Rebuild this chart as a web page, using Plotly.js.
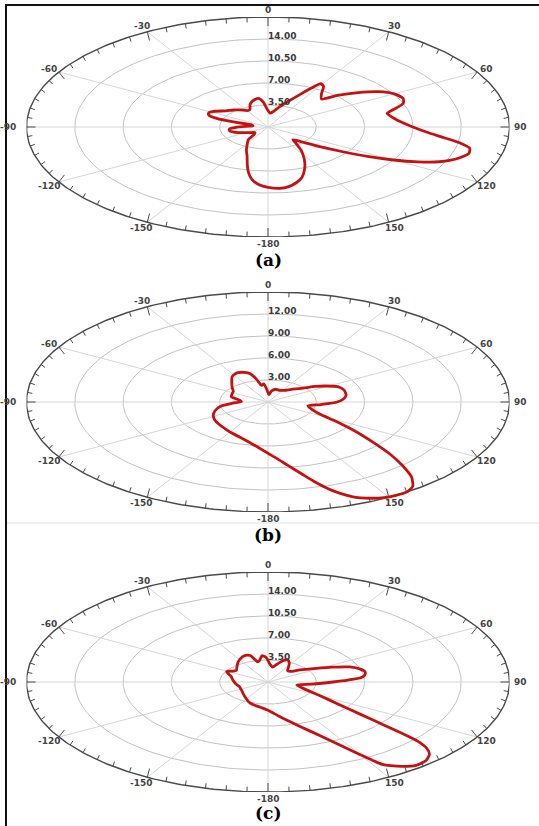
<!DOCTYPE html>
<html><head><meta charset="utf-8">
<script src="https://cdn.plot.ly/plotly-3.0.1.min.js"></script>
<style>html,body{margin:0;padding:0;background:#fff;}#chart{width:539px;height:826px;}</style>
</head><body><div id="chart"></div>
<script>
// ---- data (angle in degrees, clockwise from top; gain values) ----
const anglesA = [-180,-176,-172,-169,-166,-162,-157,-151,-145,-139,-133,-124,-115,-108,-102,-96,-91,-86,-80,-75,-72,-70,-66,-62,-57,-50,-43,-37,-29,-25,-20,-15,-9,-5,-1,4,9,15,20,24,27,29,32,36,41,45,50,55,60,65,69,73,76,81,86,90,94,97,100,103,106,109,112,114,117,120,123,126,130,134,138,142,147,153,158,163,167,171,175];
const gainA   = [9.6,9.2,8.4,7.4,6.2,4.9,4.0,3.1,2.5,1.5,1.3,1.6,2.1,2.6,2.85,2.8,2.3,1.6,1.1,1.2,2.6,3.9,4.7,4.85,4.6,4.0,3.7,3.4,3.0,3.1,3.8,4.3,4.6,4.0,2.8,2.2,2.5,3.4,4.4,5.6,7.0,7.9,7.6,6.6,5.9,7.1,8.5,9.8,10.55,10.8,10.5,9.5,8.9,9.2,9.8,10.5,11.5,12.6,14.0,15.0,15.15,14.8,14.2,13.6,12.2,10.5,8.6,6.7,4.8,3.4,2.7,3.3,4.4,5.8,7.1,8.4,9.1,9.6,9.8];

const anglesB = [-180,-175,-168,-160,-152,-145,-135,-126,-118,-110,-101,-94,-88,-80,-72,-63,-56,-48,-40,-33,-28,-25,-20,-16,-13,-10,-6,-2,3,8,15,25,33,40,48,54,58,64,71,79,85,90,96,102,110,117,122,126,130,133,136,139,142,145,148,151,154,158,162,165,168,172,176];
const gainB   = [7.0,6.3,5.6,5.1,4.8,4.55,4.3,4.1,3.85,3.5,3.0,2.2,1.65,1.9,2.4,2.5,2.6,3.0,3.5,4.1,4.35,4.42,4.3,4.0,3.2,2.3,2.5,1.6,1.0,1.5,1.8,1.75,1.9,2.25,2.77,3.6,4.12,4.81,5.0,4.94,4.7,4.3,3.3,2.53,2.9,3.6,5.0,6.6,8.5,10.3,12.0,13.6,14.6,15.0,15.0,14.9,14.6,13.9,12.6,11.3,10.0,8.7,7.7];

const anglesC = [-180,-172,-159,-145,-133,-123,-111,-98,-84,-72,-65,-61,-56,-51,-43,-35,-27,-21,-17,-13,-10,-6,-2,3,8,13,18,22,27,33,38,43,50,58,63,68,73,77,81,84,87,90,96,103,113,120,125,127.5,129,130,131,132.5,134.5,137.5,141,144,146.3,147.7,148.5,150,152.6,156,162,171,176];
const gainC   = [4.5,4.05,3.6,2.9,2.5,2.3,2.2,2.35,2.55,2.8,3.2,3.43,3.1,2.95,3.3,3.8,4.3,4.55,4.4,3.3,3.5,4.2,3.9,2.8,2.4,2.9,3.6,3.8,3.4,2.7,2.3,2.3,3.0,4.1,5.2,6.4,7.0,7.22,7.1,6.8,5.8,4.7,3.2,2.13,2.9,4.36,6.37,8.4,10.5,12.5,14.4,15.6,16.4,16.95,17.05,16.6,16.0,15.5,14.8,13.3,11.3,9.4,7.4,5.6,4.9];

const radialTicksA = [3.5, 7, 10.5, 14];
const radialTextA  = ['3.50', '7.00', '10.50', '14.00'];
const radialTicksB = [3, 6, 9, 12];
const radialTextB  = ['3.00', '6.00', '9.00', '12.00'];
const radialTicksC = [3.5, 7, 10.5, 14];
const radialTextC  = ['3.50', '7.00', '10.50', '14.00'];
const rMaxA = 17.5, rMaxB = 15, rMaxC = 17.5;

const angleTickVals = [0, 30, 60, 90, 120, 150, 180, -150, -120, -90, -60, -30];
const angleTickText = ['0', '30', '60', '90', '120', '150', '-180', '-150', '-120', '-90', '-60', '-30'];
const panelLabels = ['(a)', '(b)', '(c)'];

// ---- layout geometry ----
const W = 539, H = 826;
const CX = 268, AX = 241.5, BY = 110;
const D = Math.PI / 180;

const panels = [
  {ang: anglesA, g: gainA, rMax: rMaxA, rt: radialTicksA, rtt: radialTextA, cy: 127, labelY: 260},
  {ang: anglesB, g: gainB, rMax: rMaxB, rt: radialTicksB, rtt: radialTextB, cy: 402, labelY: 535},
  {ang: anglesC, g: gainC, rMax: rMaxC, rt: radialTicksC, rtt: radialTextC, cy: 682, labelY: 813}
];

const traces = [];
const annotations = [];
const layout = {
  width: W, height: H,
  margin: {l: 0, r: 0, t: 0, b: 0},
  paper_bgcolor: '#ffffff', plot_bgcolor: 'rgba(0,0,0,0)',
  showlegend: false,
  annotations: annotations,
  shapes: [
    {type: 'line', xref: 'paper', yref: 'paper', x0: 6/W, x1: 6/W, y0: 0, y1: 1 - 4/H, line: {color: '#111', width: 2}},
    {type: 'line', xref: 'paper', yref: 'paper', x0: 5/W, x1: 1, y0: 1 - 5/H, y1: 1 - 5/H, line: {color: '#111', width: 2}},
    {type: 'line', xref: 'paper', yref: 'paper', x0: 7/W, x1: 1, y0: 1 - 523/H, y1: 1 - 523/H, line: {color: '#e2e2e2', width: 1}}
  ]
};

panels.forEach((p, i) => {
  const sx = i === 0 ? '' : String(i + 1);
  const xa = 'x' + sx, ya = 'y' + sx;
  const R = p.rMax;
  layout['xaxis' + sx] = {domain: [(CX - AX) / W, (CX + AX) / W], range: [-R, R], visible: false, fixedrange: true};
  layout['yaxis' + sx] = {domain: [(H - (p.cy + BY)) / H, (H - (p.cy - BY)) / H], range: [-R, R], visible: false, fixedrange: true};

  // rings
  const rx = [], ry = [];
  p.rt.forEach(rv => {
    for (let k = 0; k <= 180; k++) { const t = k * 2 * D; rx.push(rv * Math.sin(t)); ry.push(rv * Math.cos(t)); }
    rx.push(null); ry.push(null);
  });
  traces.push({type: 'scatter', mode: 'lines', x: rx, y: ry, xaxis: xa, yaxis: ya, line: {color: '#c2c2c2', width: 1}, hoverinfo: 'skip'});

  // spokes
  const spx = [], spy = [];
  for (let a = 0; a < 180; a += 30) {
    const t = a * D;
    spx.push(R * Math.sin(t), -R * Math.sin(t), null);
    spy.push(R * Math.cos(t), -R * Math.cos(t), null);
  }
  traces.push({type: 'scatter', mode: 'lines', x: spx, y: spy, xaxis: xa, yaxis: ya, line: {color: '#d6d6d6', width: 1}, hoverinfo: 'skip'});

  // outer boundary
  const ox = [], oy = [];
  for (let k = 0; k <= 360; k++) { const t = k * D; ox.push(R * Math.sin(t)); oy.push(R * Math.cos(t)); }
  traces.push({type: 'scatter', mode: 'lines', x: ox, y: oy, xaxis: xa, yaxis: ya, line: {color: '#4a4a4a', width: 1.4}, hoverinfo: 'skip'});

  // angular ticks (inward, fixed pixel length)
  const tx = [], ty = [];
  for (let a = -180; a < 180; a += 5) {
    const t = a * D;
    const px = AX * Math.sin(t), py = BY * Math.cos(t);
    let nx = Math.sin(t) / AX, ny = Math.cos(t) / BY;
    const nl = Math.hypot(nx, ny); nx /= nl; ny /= nl;
    const L = (a % 30 === 0) ? 9 : 5;
    const ix = px - L * nx, iy = py - L * ny;
    tx.push(px / AX * R, ix / AX * R, null);
    ty.push(py / BY * R, iy / BY * R, null);
  }
  traces.push({type: 'scatter', mode: 'lines', x: tx, y: ty, xaxis: xa, yaxis: ya, line: {color: '#4a4a4a', width: 1}, hoverinfo: 'skip'});

  // pattern curve
  const cxs = [], cys = [];
  p.ang.forEach((a, j) => { cxs.push(p.g[j] * Math.sin(a * D)); cys.push(p.g[j] * Math.cos(a * D)); });
  cxs.push(cxs[0]); cys.push(cys[0]);
  traces.push({type: 'scatter', mode: 'lines', x: cxs, y: cys, xaxis: xa, yaxis: ya,
    line: {color: '#c41212', width: 2.8, shape: 'spline', smoothing: 0.6}, hoverinfo: 'skip'});

  // radial labels
  p.rt.forEach((rv, j) => {
    annotations.push({xref: xa, yref: ya, x: 0, y: rv, text: p.rtt[j], showarrow: false,
      xanchor: 'left', yanchor: 'middle', xshift: -2, yshift: 3,
      font: {family: 'DejaVu Sans', size: 9, color: '#3a3a3a', weight: 'bold'}});
  });

  // angular labels
  angleTickVals.forEach((a, j) => {
    const t = a * D;
    let xs = 11 * Math.sin(t), ys = 7 * Math.cos(t);
    if (a === -90) xs = -18;
    annotations.push({xref: xa, yref: ya, x: R * Math.sin(t), y: R * Math.cos(t), text: angleTickText[j], showarrow: false,
      xanchor: 'center', yanchor: 'middle', xshift: xs, yshift: ys,
      font: {family: 'DejaVu Sans', size: 9, color: '#444', weight: 'bold'}});
  });

  // panel label
  annotations.push({xref: 'paper', yref: 'paper', x: CX / W, y: 1 - p.labelY / H, text: panelLabels[i], showarrow: false,
    xanchor: 'center', yanchor: 'middle',
    font: {family: 'DejaVu Serif', size: 17, color: '#000', weight: 'bold'}});
});

Plotly.newPlot('chart', traces, layout, {staticPlot: true, displayModeBar: false});
</script>
</body></html>
